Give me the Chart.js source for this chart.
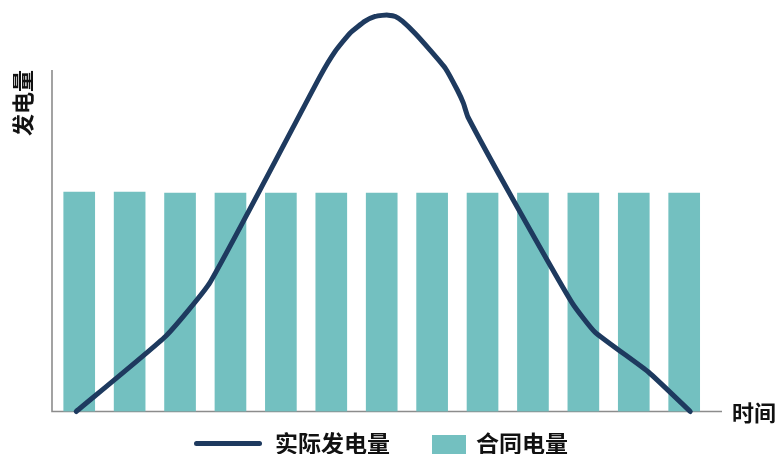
<!DOCTYPE html>
<html>
<head>
<meta charset="utf-8">
<script src="https://cdn.jsdelivr.net/npm/chart.js@4"></script>
<style>
  html, body { margin: 0; padding: 0; background: #ffffff; }
  #wrap { position: relative; width: 777px; height: 454px; overflow: hidden; font-family: "Noto Sans CJK SC", "Noto Sans", sans-serif; color: #111; }
  canvas { position: absolute; left: 0; top: 0; }
  .t { position: absolute; font-weight: bold; white-space: nowrap; line-height: 1; }
  #ytitle { left: 21px; top: 103px; font-size: 22px; transform: translate(-50%, -50%) rotate(-90deg); }
  #xtitle { left: 732px; top: 400px; font-size: 22px; }
  .lg-line { position: absolute; left: 194px; top: 441px; width: 68px; height: 5px; border-radius: 3px; background: #1e3a5f; }
  .lg-box { position: absolute; left: 432px; top: 435px; width: 34px; height: 24px; background: #73c0c0; }
  .lg-text { position: absolute; top: 431px; font-size: 23px; font-weight: bold; line-height: 1; white-space: nowrap; }
</style>
</head>
<body>
<div id="wrap">
  <canvas id="c" width="777" height="454"></canvas>
  <div class="t" id="ytitle">发电量</div>
  <div class="t" id="xtitle">时间</div>
  <div class="lg-line"></div>
  <div class="lg-text" id="lg1" style="left:275px">实际发电量</div>
  <div class="lg-box"></div>
  <div class="lg-text" id="lg2" style="left:476px">合同电量</div>
</div>
<script>
// Category positions (time slots) and contract volume per slot
const slots = [0, 1, 2, 3, 4, 5, 6, 7, 8, 9, 10, 11, 12];
const contractValues = [100, 100, 99.5, 99.5, 99.5, 99.5, 99.5, 99.5, 99.5, 99.5, 99.5, 99.5, 99.5];

const actualX = [-0.06, 1.72, 2.60, 4.78, 5.08, 5.37, 5.67, 5.87, 6.01, 6.13, 6.27, 6.41, 6.66, 6.96, 7.26, 7.50, 7.62, 7.71, 8.61, 9.78, 10.23, 11.29, 12.12];
const actualY = [0, 34.4, 59.0, 152.8, 164.2, 172.4, 177.9, 180.0, 180.5, 180.6, 180.0, 177.9, 172.4, 164.7, 156.5, 146.5, 140.5, 134.2, 96.4, 49.4, 36.2, 18.0, 0];

const seriesNames = ['实际发电量', '合同电量'];
const xRange = [-0.54, 12.75];
const yRange = [0, 185];
const yAxisTop = 155.6;

const axisLines = {
  id: 'axisLines',
  beforeDatasetsDraw(chart) {
    const { ctx, chartArea, scales } = chart;
    const y0 = scales.y.getPixelForValue(0);
    const yTop = scales.y.getPixelForValue(yAxisTop);
    ctx.save();
    ctx.strokeStyle = '#8c8c8c';
    ctx.lineWidth = 1.6;
    ctx.beginPath();
    ctx.moveTo(chartArea.left, yTop);
    ctx.lineTo(chartArea.left, y0);
    ctx.lineTo(chartArea.right, y0);
    ctx.stroke();
    ctx.restore();
  }
};

new Chart(document.getElementById('c'), {
  data: {
    datasets: [
      {
        type: 'line',
        label: seriesNames[0],
        data: actualX.map((x, i) => ({ x, y: actualY[i] })),
        borderColor: '#1e3a5f',
        backgroundColor: '#1e3a5f',
        borderWidth: 5,
        borderCapStyle: 'round',
        borderJoinStyle: 'round',
        tension: 0.15,
        pointRadius: 0,
        clip: false
      },
      {
        type: 'bar',
        label: seriesNames[1],
        data: slots.map((x, i) => ({ x, y: contractValues[i] })),
        backgroundColor: '#73c0c0',
        borderWidth: 0,
        barThickness: 31
      }
    ]
  },
  options: {
    responsive: false,
    devicePixelRatio: 1,
    animation: false,
    layout: { padding: { left: 52, right: 55, top: 5.5, bottom: 42.5 } },
    plugins: { legend: { display: false }, tooltip: { enabled: false } },
    scales: {
      x: { type: 'linear', offset: false, min: xRange[0], max: xRange[1], display: false },
      y: { min: yRange[0], max: yRange[1], display: false }
    }
  },
  plugins: [axisLines]
});
</script>
</body>
</html>
